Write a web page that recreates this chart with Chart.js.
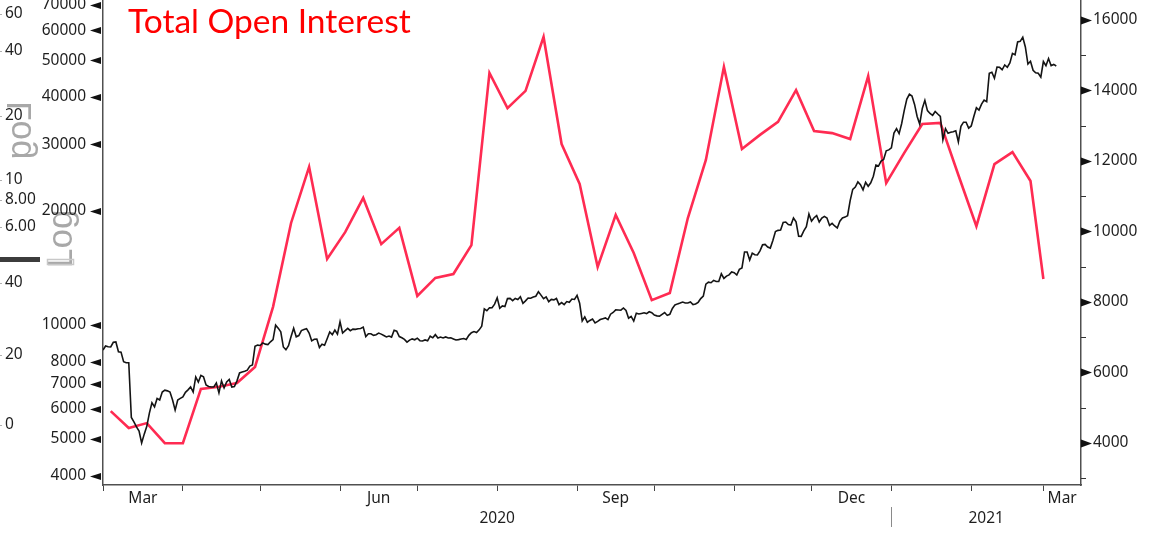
<!DOCTYPE html>
<html>
<head>
<meta charset="utf-8">
<title>Total Open Interest</title>
<script src="https://cdn.jsdelivr.net/npm/chart.js@4.4.1/dist/chart.umd.min.js"></script>
<style>
  html, body { margin: 0; padding: 0; background: #ffffff; }
  canvas { display: block; }
</style>
</head>
<body>
<canvas id="chart" width="1154" height="534"></canvas>
<script>
// Bitcoin daily close (USD), one value per day starting at priceStart
const priceStart = '2020-03-01';
const priceClose = [
  // Mar 2020
  8590, 8800, 8760, 8750, 9000, 9020, 8500, 8480, 8000, 7950,
  7950, 5700, 5550, 5380, 5250, 4880, 5150, 5400, 5850, 6230,
  6080, 6400, 6340, 6650, 6730, 6700, 6650, 6340, 5960, 6340, 6400,
  // Apr
  6460, 6640, 6740, 6860, 6650, 7290, 7070, 7360, 7300, 6940,
  6880, 6860, 6860, 7030, 6620, 7120, 6820, 7070, 7180, 6860,
  6880, 7120, 7470, 7510, 7550, 7600, 7790, 7840, 8780, 8850,
  // May
  8830, 8970, 8900, 8880, 9030, 9150, 9990, 9810, 9590, 8750,
  8600, 8820, 9320, 9800, 9310, 9380, 9670, 9730, 9780, 9520,
  9080, 9170, 9180, 8720, 8900, 8840, 9200, 9580, 9430, 9700, 9460,
  // Jun
  10200, 9520, 9660, 9800, 9660, 9750, 9740, 9770, 9790, 9870,
  9320, 9480, 9480, 9390, 9430, 9520, 9460, 9380, 9300, 9350,
  9290, 9690, 9630, 9320, 9250, 9160, 9010, 9120, 9190, 9140,
  // Jul
  9230, 9090, 9070, 9130, 9080, 9340, 9250, 9430, 9240, 9290,
  9240, 9300, 9240, 9250, 9190, 9130, 9150, 9180, 9210, 9160,
  9390, 9540, 9610, 9550, 9710, 9930, 11030, 10910, 11100, 11110, 11350,
  // Aug
  11800, 11070, 11230, 11190, 11740, 11760, 11600, 11750, 11680, 11880,
  11410, 11580, 11780, 11770, 11860, 11910, 12250, 11990, 11740, 11860,
  11520, 11680, 11650, 11750, 11320, 11460, 11320, 11530, 11480, 11710, 11680,
  // Sep
  11970, 11410, 10250, 10510, 10170, 10280, 10370, 10130, 10220, 10340,
  10390, 10440, 10330, 10680, 10790, 10960, 10950, 10940, 11090, 10920,
  10420, 10540, 10240, 10740, 10690, 10730, 10770, 10720, 10840, 10780,
  // Oct
  10620, 10570, 10550, 10670, 10790, 10600, 10670, 11060, 11300, 11370,
  11430, 11500, 11430, 11430, 11500, 11320, 11360, 11480, 11740, 11920,
  12820, 12970, 12930, 13120, 13030, 13030, 13650, 13270, 13460, 13560, 13800,
  // Nov
  13740, 13550, 14020, 14150, 15590, 15580, 14840, 15480, 15330, 15310,
  15700, 16280, 16320, 16070, 15960, 16720, 17650, 17780, 17820, 18650,
  18700, 18420, 18370, 19160, 18720, 17150, 17140, 17720, 18180, 19630,
  // Dec
  18800, 19200, 19440, 18700, 19150, 19360, 19170, 18320, 18550, 18260,
  18040, 18800, 19170, 19270, 19440, 21310, 22800, 23130, 23870, 23480,
  22750, 23820, 23240, 23740, 24710, 26440, 26280, 27080, 27360, 28840, 29000,
  // Jan 2021
  29370, 32130, 33000, 32020, 34050, 36860, 39490, 40670, 40240, 38240,
  35540, 33920, 37320, 39190, 36830, 36180, 35790, 36630, 36070, 35550,
  30830, 33000, 32080, 32270, 32370, 32570, 30430, 33470, 34320, 34320, 33110,
  // Feb
  33540, 35510, 37470, 36930, 38290, 39260, 38900, 46200, 46480, 44840,
  47970, 47910, 47190, 48590, 47930, 49200, 52150, 51680, 55890, 56100,
  57540, 54210, 48880, 49710, 47060, 46340, 46190, 45140,
  // Mar
  49630, 48380, 50540, 48370, 48760, 48300
];

// Total open interest, weekly readings
const oiDates = [
  '2020-03-04', '2020-03-11', '2020-03-18', '2020-03-25', '2020-04-01', '2020-04-08',
  '2020-04-15', '2020-04-22', '2020-04-29', '2020-05-06', '2020-05-13', '2020-05-20',
  '2020-05-27', '2020-06-03', '2020-06-10', '2020-06-17', '2020-06-24', '2020-07-01',
  '2020-07-08', '2020-07-15', '2020-07-22', '2020-07-29', '2020-08-05', '2020-08-12',
  '2020-08-19', '2020-08-26', '2020-09-02', '2020-09-09', '2020-09-16', '2020-09-23',
  '2020-09-30', '2020-10-07', '2020-10-14', '2020-10-21', '2020-10-28', '2020-11-04',
  '2020-11-11', '2020-11-18', '2020-11-25', '2020-12-02', '2020-12-09', '2020-12-16',
  '2020-12-23', '2020-12-30', '2021-01-06', '2021-01-13', '2021-01-20', '2021-01-27',
  '2021-02-03', '2021-02-10', '2021-02-17', '2021-02-24', '2021-03-01'
];
const oiValues = [
  4900, 4420, 4560, 3990, 3990, 5530,
  5590, 5700, 6150, 7860, 10240, 11830,
  9220, 9980, 10950, 9640, 10100, 8170,
  8680, 8790, 9610, 14500, 13500, 13990,
  15520, 12480, 11350, 8990, 10470, 9390,
  8050, 8250, 10380, 12030, 14670, 12340,
  12740, 13110, 14010, 12850, 12790, 12620,
  14410, 11370, 12230, 13050, 13080, 11600,
  10150, 11910, 12250, 11430, 8650
];

// Axis ticks and labels
const priceTicks = [4000, 5000, 6000, 7000, 8000, 10000, 20000, 30000, 40000, 50000, 60000, 70000];
const oiTicks = [4000, 6000, 8000, 10000, 12000, 14000, 16000];
const oiMinorTicks = [3000, 5000, 7000, 9000, 11000, 13000, 15000];
const monthStarts = [
  '2020-03-01', '2020-04-01', '2020-05-01', '2020-06-01', '2020-07-01', '2020-08-01', '2020-09-01',
  '2020-10-01', '2020-11-01', '2020-12-01', '2021-01-01', '2021-02-01', '2021-03-01'
];
const labelledMonths = ['2020-03-01', '2020-06-01', '2020-09-01', '2020-12-01', '2021-03-01'];
const monthLabels = ['Mar', 'Jun', 'Sep', 'Dec', 'Mar'];
const yearBreak = '2021-01-01';
const yearLabels = ['2020', '2021'];

// Neighbouring panel axis labels on the far left
const sideLabels = ['60', '40', '20', '10', '8.00', '6.00', '40', '20', '0'];

// ---- derived values -------------------------------------------------------
const DAY = 86400000;
const t0 = Date.parse(priceStart + 'T00:00:00Z');
const dayOf = s => (Date.parse(s + 'T00:00:00Z') - t0) / DAY;
const xMax = dayOf('2021-03-15') + 0.6;

const pricePoints = priceClose.map((v, i) => ({ x: i, y: v }));
const oiPoints = oiDates.map((d, i) => ({ x: dayOf(d), y: oiValues[i] }));

const key = v => v.toFixed(3);
const monthTickDays = monthStarts.map(dayOf);
const monthTickSet = new Set(monthTickDays.map(key));
const monthLabelAt = new Map();
labelledMonths.forEach((m, i) => {
  const start = dayOf(m);
  const next = monthTickDays.find(d => d > start);
  const end = Math.min(next === undefined ? xMax : next, xMax);
  monthLabelAt.set(key((start + end) / 2), monthLabels[i]);
});
const breakDay = dayOf(yearBreak);
const yearLabelAt = new Map([
  [key(breakDay / 2), yearLabels[0]],
  [key((breakDay + xMax) / 2), yearLabels[1]]
]);

const FONT = '"Noto Sans", "DejaVu Sans", sans-serif';
const TEXT = '#1e1e1e';
const AXIS = '#505050';

const noEdgePadding = s => { s.paddingTop = 0; s.paddingBottom = 0; s.paddingLeft = 0; s.paddingRight = 0; };

// Arrow tick marks on the value axes
const axisMarks = {
  id: 'axisMarks',
  afterDraw(chart) {
    const { ctx, chartArea: a, scales } = chart;
    ctx.save();
    ctx.fillStyle = '#111111';
    for (const v of priceTicks) {
      const y = Math.round(scales.yPx.getPixelForValue(v)) + 0.5;
      ctx.beginPath();
      ctx.moveTo(a.left - 13, y);
      ctx.lineTo(a.left - 2, y - 3.5);
      ctx.lineTo(a.left - 2, y + 3.5);
      ctx.closePath();
      ctx.fill();
    }
    for (const v of oiTicks) {
      const y = Math.round(scales.yOI.getPixelForValue(v)) + 0.5;
      ctx.beginPath();
      ctx.moveTo(a.right + 11, y);
      ctx.lineTo(a.right, y - 4);
      ctx.lineTo(a.right, y + 4);
      ctx.closePath();
      ctx.fill();
    }
    ctx.strokeStyle = '#333333';
    ctx.lineWidth = 1;
    for (const v of oiMinorTicks) {
      const y = Math.round(scales.yOI.getPixelForValue(v)) + 0.5;
      ctx.beginPath();
      ctx.moveTo(a.right, y);
      ctx.lineTo(a.right + 5, y);
      ctx.stroke();
    }
    ctx.restore();
  }
};

// Chart heading
const heading = {
  id: 'heading',
  afterDraw(chart) {
    const ctx = chart.ctx;
    ctx.save();
    ctx.fillStyle = '#ff0000';
    ctx.font = '33.5px Lato, "Open Sans", sans-serif';
    ctx.textBaseline = 'alphabetic';
    ctx.textAlign = 'left';
    ctx.fillText('Total Open Interest', 128, 33);
    ctx.restore();
  }
};

// Axis of the neighbouring panel, partly hidden behind this one
const sidePanel = {
  id: 'sidePanel',
  beforeDraw(chart) {
    const ctx = chart.ctx;
    ctx.save();
    ctx.fillStyle = '#a8a8a8';
    ctx.font = '35px "Liberation Sans", sans-serif';
    ctx.textAlign = 'left';
    ctx.textBaseline = 'alphabetic';
    ctx.save();
    ctx.translate(72, 268);
    ctx.rotate(-Math.PI / 2);
    ctx.fillText('Log', 0, 0);
    ctx.restore();
    ctx.save();
    ctx.translate(31, 101);
    ctx.scale(1, -1);
    ctx.rotate(-Math.PI / 2);
    ctx.fillText('Log', 0, 0);
    ctx.restore();

    const ys = [14, 51, 116, 180, 200, 227, 283, 355, 425];
    ctx.fillStyle = TEXT;
    ctx.font = '15.5px ' + FONT;
    ctx.textBaseline = 'middle';
    ctx.strokeStyle = '#b0b0b0';
    ctx.lineWidth = 1;
    sideLabels.forEach((t, i) => {
      ctx.fillText(t, 5, ys[i]);
      ctx.beginPath();
      ctx.moveTo(0, ys[i] + 0.5);
      ctx.lineTo(2, ys[i] + 0.5);
      ctx.stroke();
    });
    ctx.fillStyle = '#3c3c3c';
    ctx.fillRect(0, 257, 40, 5);
    ctx.strokeStyle = '#c8c8c8';
    ctx.lineWidth = 1.5;
    ctx.strokeRect(47.5, 259.5, 26, 5);
    ctx.restore();
  }
};

Chart.defaults.font.family = FONT;
Chart.defaults.font.size = 15.5;
Chart.defaults.color = TEXT;

new Chart(document.getElementById('chart'), {
  type: 'line',
  data: {
    datasets: [
      {
        label: 'Price',
        data: pricePoints,
        yAxisID: 'yPx',
        borderColor: '#141414',
        borderWidth: 1.6,
        pointRadius: 0,
        tension: 0,
        order: 0
      },
      {
        label: 'Total Open Interest',
        data: oiPoints,
        yAxisID: 'yOI',
        borderColor: '#ff2b52',
        borderWidth: 2.6,
        pointRadius: 0,
        tension: 0,
        order: 1
      }
    ]
  },
  options: {
    responsive: false,
    animation: false,
    devicePixelRatio: 1,
    events: [],
    layout: { padding: 0 },
    plugins: { legend: { display: false }, tooltip: { enabled: false }, title: { display: false } },
    scales: {
      x: {
        type: 'linear',
        position: 'bottom',
        weight: 0,
        min: 0,
        max: xMax,
        afterBuildTicks: s => {
          s.ticks = monthTickDays.map(v => ({ value: v }))
            .concat([...monthLabelAt.keys()].map(k => ({ value: parseFloat(k) })))
            .sort((p, q) => p.value - q.value);
        },
        afterFit: s => { s.height = 22; noEdgePadding(s); },
        ticks: {
          autoSkip: false,
          maxRotation: 0,
          minRotation: 0,
          padding: -2,
          callback: v => monthLabelAt.get(key(v)) || ''
        },
        grid: {
          drawOnChartArea: false,
          tickLength: 6,
          tickWidth: 1,
          tickColor: c => (c.tick && monthTickSet.has(key(c.tick.value))) ? '#444444' : 'rgba(0,0,0,0)'
        },
        border: { color: AXIS, width: 1.5 }
      },
      xYear: {
        type: 'linear',
        position: 'bottom',
        weight: 1,
        min: 0,
        max: xMax,
        afterBuildTicks: s => {
          s.ticks = [breakDay / 2, breakDay, (breakDay + xMax) / 2].map(v => ({ value: v }));
        },
        afterFit: s => { s.height = 27; noEdgePadding(s); },
        ticks: {
          autoSkip: false,
          maxRotation: 0,
          minRotation: 0,
          padding: -18,
          callback: v => yearLabelAt.get(key(v)) || ''
        },
        grid: {
          drawOnChartArea: false,
          tickLength: 20,
          tickWidth: 1,
          tickColor: c => (c.tick && key(c.tick.value) === key(breakDay)) ? '#8a8a8a' : 'rgba(0,0,0,0)'
        },
        border: { display: false }
      },
      yPx: {
        type: 'logarithmic',
        position: 'left',
        min: 3780,
        max: 72140,
        afterBuildTicks: s => { s.ticks = priceTicks.map(v => ({ value: v })); },
        afterFit: s => { s.width = 103; noEdgePadding(s); },
        ticks: { autoSkip: false, padding: 9, callback: v => String(v) },
        grid: { display: false },
        border: { color: AXIS, width: 1.5 }
      },
      yOI: {
        type: 'linear',
        position: 'right',
        min: 2803,
        max: 16568,
        afterBuildTicks: s => { s.ticks = oiTicks.map(v => ({ value: v })); },
        afterFit: s => { s.width = 73; noEdgePadding(s); },
        ticks: { autoSkip: false, padding: 4, callback: v => String(v) },
        grid: { display: false },
        border: { color: AXIS, width: 1.5 }
      }
    }
  },
  plugins: [sidePanel, axisMarks, heading]
});
</script>
</body>
</html>
